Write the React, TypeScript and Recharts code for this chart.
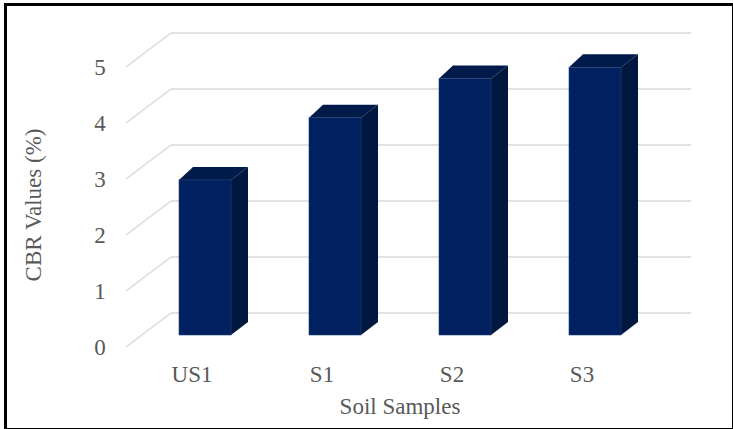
import { BarChart, Bar, XAxis, YAxis, CartesianGrid } from 'recharts'

const samples = ['US1', 'S1', 'S2', 'S3']
const cbrValues = [2.77, 3.88, 4.58, 4.78]
const yTicks = [0, 1, 2, 3, 4, 5]

const data = samples.map((name, i) => ({ name, cbr: cbrValues[i] }))

const FONT = "'Liberation Serif', 'Times New Roman', serif"
const TEXT = '#595959'
const GRID = '#d9d9d9'
const textStyle = { fontFamily: FONT, fontSize: 23, fill: TEXT }

// back wall is pushed up/right, floor edge comes forward to the left
const WALL_DX = 31
const WALL_DY = -22
const FRONT_DX = -14
const FRONT_DY = 12

function WallLine(props: any) {
    const { x1, x2, y1 } = props
    return (
        <g>
            <line x1={x1 + FRONT_DX} y1={y1 + FRONT_DY} x2={x1 + WALL_DX} y2={y1 + WALL_DY} stroke={GRID} strokeWidth={1.5} />
            <line x1={x1 + WALL_DX} y1={y1 + WALL_DY} x2={x2 + WALL_DX} y2={y1 + WALL_DY} stroke={GRID} strokeWidth={1.5} />
        </g>
    )
}

function Bar3D(props: any) {
    const { x, y, width, height } = props
    if (!height) return null
    const r = x + width
    const b = y + height
    return (
        <g>
            <polygon points={`${r},${y} ${r + 17},${y - 13} ${r + 17},${b - 13} ${r},${b}`} fill="#00173f" />
            <polygon points={`${x},${y} ${x + 14},${y - 13} ${r + 17},${y - 13} ${r},${y}`} fill="#001a4a" />
            <rect x={x} y={y} width={width} height={height} fill="#002060" stroke="#24427a" strokeWidth={0.6} />
        </g>
    )
}

function YTick(props: any) {
    const { y, payload } = props
    return (
        <text x={100} y={y + 20} textAnchor="middle" style={textStyle}>
            {payload.value}
        </text>
    )
}

function XTick(props: any) {
    const { x, payload } = props
    return (
        <text x={x - 13} y={382} textAnchor="middle" style={textStyle}>
            {payload.value}
        </text>
    )
}

export default function App() {
    return (
        <div
            className="cbr-chart"
            style={{ position: 'absolute', left: 0, top: 0, width: 733, height: 429, background: '#fff', fontFamily: FONT }}
        >
            <style>{`.cbr-chart text { font-family: 'Liberation Serif', 'Times New Roman', serif !important; }`}</style>
            <div
                style={{
                    position: 'absolute',
                    left: 4,
                    top: 3,
                    width: 725,
                    height: 422,
                    border: '3px solid #000',
                    boxSizing: 'content-box'
                }}
            />
            <BarChart
                width={733}
                height={429}
                data={data}
                margin={{ top: 55, right: 73, bottom: 14, left: 40 }}
                style={{ position: 'absolute', left: 0, top: 0 }}
            >
                <CartesianGrid vertical={false} horizontal={(p: any) => <WallLine key={p.key} {...p} />} />
                <YAxis
                    width={100}
                    domain={[0, 5]}
                    ticks={yTicks}
                    axisLine={false}
                    tickLine={false}
                    tick={<YTick />}
                    label={{
                        content: () => (
                            <text x={41} y={205} transform="rotate(-90 41 205)" textAnchor="middle" style={textStyle}>
                                CBR Values (%)
                            </text>
                        )
                    }}
                />
                <XAxis
                    dataKey="name"
                    height={80}
                    axisLine={false}
                    tickLine={false}
                    tick={<XTick />}
                    label={{
                        content: () => (
                            <text x={400} y={414} textAnchor="middle" style={textStyle}>
                                Soil Samples
                            </text>
                        )
                    }}
                />
                <Bar dataKey="cbr" barSize={52} shape={<Bar3D />} isAnimationActive={false} />
            </BarChart>
        </div>
    )
}
